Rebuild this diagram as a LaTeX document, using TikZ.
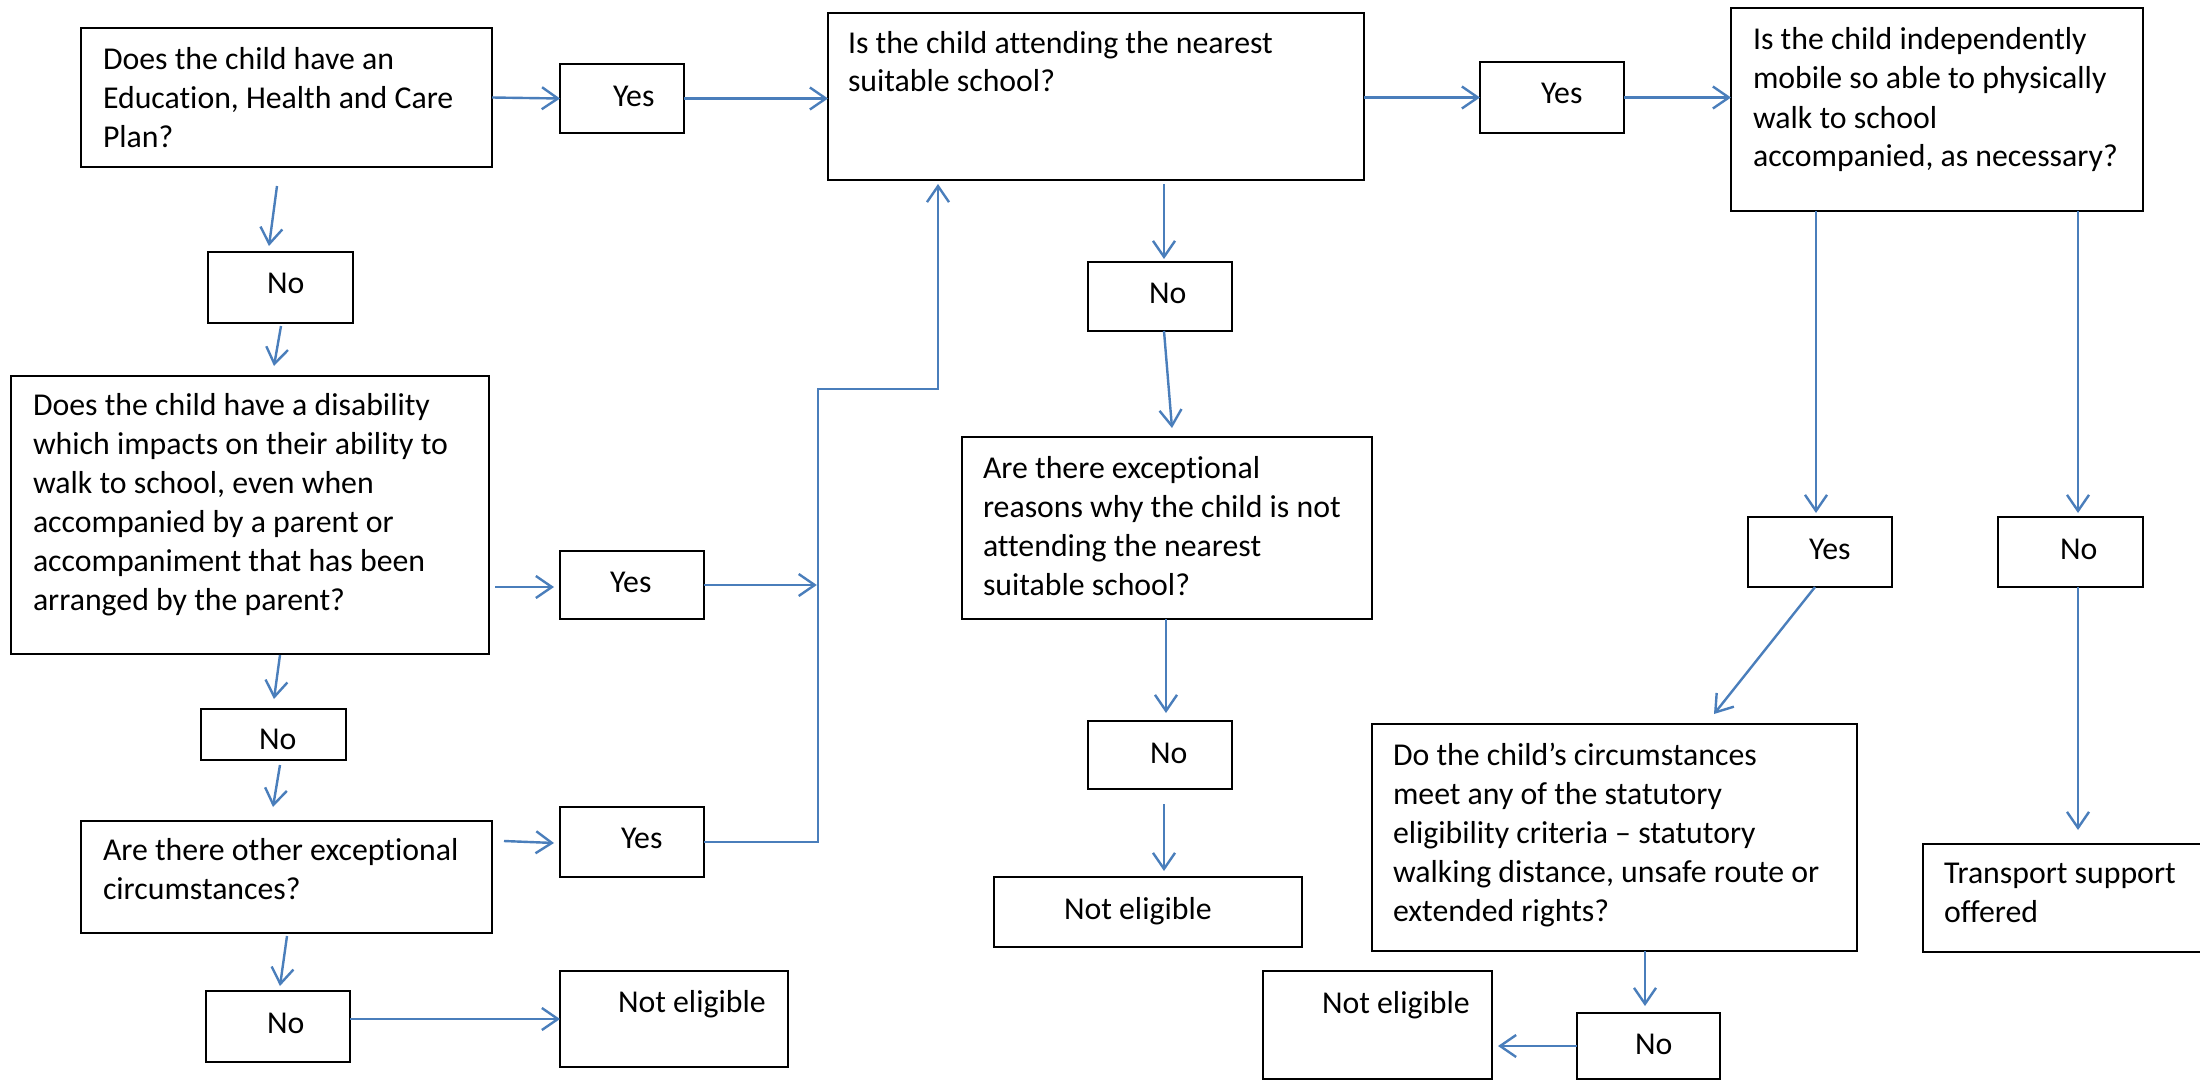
\documentclass[tikz,border=0pt]{standalone}
\usepackage{fontspec}
\setmainfont{Carlito}[Ligatures={NoCommon}]
\usetikzlibrary{arrows.meta}
\definecolor{cblue}{RGB}{74,126,187}
\tikzset{
  bx/.style={draw=black, line width=2.8pt, inner sep=0pt, outer sep=0pt, anchor=north west},
  tx/.style={anchor=base west, inner sep=0pt, outer sep=0pt, font=\fontsize{31.8}{39}\selectfont},
  cn/.style={draw=cblue, line width=2.4pt},
  arr/.style={cn, -{Straight Barb[length=16pt,width=22pt]}}
}
\newcommand\mkbox[5]{\node[bx, minimum width={(#4)-(#2)}, minimum height={(#5)-(#3)}] (#1) at (#2,#3) {};}
\newcommand\mktext[4]{\node[tx] (#1) at (#2,#3) {\begin{minipage}[t]{560pt}\raggedright #4\end{minipage}};}
\begin{document}
\begin{tikzpicture}[x=1pt,y=-1pt]
\useasboundingbox[fill=white] (0,0) rectangle (2200,1081);
% boxes
\mkbox{A}{81}{28}{492}{167}
\mktext{At}{103}{70}{Does the child have an\\Education, Health and Care\\Plan?}
\mkbox{Y1}{560}{64}{684}{133}
\mktext{Y1t}{613}{106}{Yes}
\mkbox{B}{828}{13}{1364}{180}
\mktext{Bt}{848}{53}{Is the child attending the nearest\\suitable school?}
\mkbox{Y2}{1480}{62}{1624}{133}
\mktext{Y2t}{1541}{103}{Yes}
\mkbox{D}{1731}{8}{2143}{211}
\mktext{Dt}{1753}{50}{Is the child independently\\mobile so able to physically\\walk to school\\accompanied, as necessary?}
\mkbox{N1}{208}{252}{353}{323}
\mktext{N1t}{267}{293}{No}
\mkbox{C}{11}{376}{489}{654}
\mktext{Ct}{33}{415}{Does the child have a disability\\which impacts on their ability to\\walk to school, even when\\accompanied by a parent or\\accompaniment that has been\\arranged by the parent?}
\mkbox{Y3}{560}{551}{704}{619}
\mktext{Y3t}{610}{592}{Yes}
\mkbox{N3}{201}{709}{346}{760}
\mktext{N3t}{259}{749}{No}
\mkbox{E}{81}{821}{492}{933}
\mktext{Et}{103}{860}{Are there other exceptional\\circumstances?}
\mkbox{Y4}{560}{807}{704}{877}
\mktext{Y4t}{621}{848}{Yes}
\mkbox{N4}{206}{991}{350}{1062}
\mktext{N4t}{267}{1033}{No}
\mkbox{NE1}{560}{971}{788}{1067}
\mktext{NE1t}{618}{1012}{Not eligible}
\mkbox{N2}{1088}{262}{1232}{331}
\mktext{N2t}{1149}{303}{No}
\mkbox{F}{962}{437}{1372}{619}
\mktext{Ft}{983}{478}{Are there exceptional\\reasons why the child is not\\attending the nearest\\suitable school?}
\mkbox{N5}{1088}{721}{1232}{789}
\mktext{N5t}{1150}{763}{No}
\mkbox{NE2}{994}{877}{1302}{947}
\mktext{NE2t}{1064}{919}{Not eligible}
\mkbox{Y6}{1748}{517}{1892}{587}
\mktext{Y6t}{1809}{559}{Yes}
\mkbox{N6}{1998}{517}{2143}{587}
\mktext{N6t}{2060}{559}{No}
\mkbox{G}{1372}{724}{1857}{951}
\mktext{Gt}{1393}{765}{Do the child’s circumstances\\meet any of the statutory\\eligibility criteria – statutory\\walking distance, unsafe route or\\extended rights?}
\mkbox{T}{1923}{844}{2210}{952}
\mktext{Tt}{1944}{883}{Transport support\\offered}
\mkbox{N7}{1577}{1013}{1720}{1079}
\mktext{N7t}{1635}{1054}{No}
\mkbox{NE3}{1263}{971}{1492}{1079}
\mktext{NE3t}{1322}{1013}{Not eligible}
% free connector ends
\coordinate (a1s) at (277,186); \coordinate (a1e) at (269,246);
\coordinate (a2s) at (281,326); \coordinate (a2e) at (274,366);
\coordinate (a3s) at (495,587); \coordinate (a3e) at (554,587);
\coordinate (a4s) at (280,655); \coordinate (a4e) at (274,699);
\coordinate (a5s) at (280,765); \coordinate (a5e) at (273,807);
\coordinate (a6s) at (504,841); \coordinate (a6e) at (554,843);
\coordinate (a7s) at (287,936); \coordinate (a7e) at (280,986);
\coordinate (j1) at (818,842); \coordinate (j2) at (818,389); \coordinate (j3) at (938,389);
\coordinate (b1s) at (1164,184); \coordinate (b1e) at (1164,259);
\coordinate (b2s) at (1164,331); \coordinate (b2e) at (1172,428);
\coordinate (b3s) at (1166,619); \coordinate (b3e) at (1166,713);
\coordinate (b4s) at (1164,804); \coordinate (b4e) at (1164,871);
\coordinate (d1s) at (1816,211); \coordinate (d1e) at (1816,513);
\coordinate (d2s) at (2078,211); \coordinate (d2e) at (2078,513);
\coordinate (d3s) at (1815,587); \coordinate (d3e) at (1714,714);
\coordinate (d4s) at (2078,587); \coordinate (d4e) at (2078,830);
\coordinate (d5s) at (1645,951); \coordinate (d5e) at (1645,1006);
\coordinate (d6e) at (1498,1046);
% connectors
\draw[arr] (A.east) -- (Y1.west);
\draw[arr] (Y1.east) -- (B.west |- Y1.east);
\draw[arr] (B.east |- Y2.west) -- (Y2.west);
\draw[arr] (Y2.east) -- (D.west |- Y2.east);
\draw[arr] (a1s) -- (a1e);
\draw[arr] (a2s) -- (a2e);
\draw[arr] (a3s) -- (a3e);
\draw[arr] (Y3.east) -- ([xshift=-1.2pt]j1 |- Y3.east);
\draw[arr] (a4s) -- (a4e);
\draw[arr] (a5s) -- (a5e);
\draw[arr] (a6s) -- (a6e);
\draw[arr] (a7s) -- (a7e);
\draw[arr] (N4.east |- NE1.west) -- (NE1.west);
\draw[arr] (Y4.east) -- (j1) -- (j2) -- (j3) -- ([yshift=-4pt]j3 |- B.south);
\draw[arr] (b1s) -- (b1e);
\draw[arr] (b2s) -- (b2e);
\draw[arr] (b3s) -- (b3e);
\draw[arr] (b4s) -- (b4e);
\draw[arr] (d1s) -- (d1e);
\draw[arr] (d2s) -- (d2e);
\draw[arr] (d3s) -- (d3e);
\draw[arr] (d4s) -- (d4e);
\draw[arr] (d5s) -- (d5e);
\draw[arr] (N7.west |- d6e) -- (d6e);
\end{tikzpicture}
\end{document}
